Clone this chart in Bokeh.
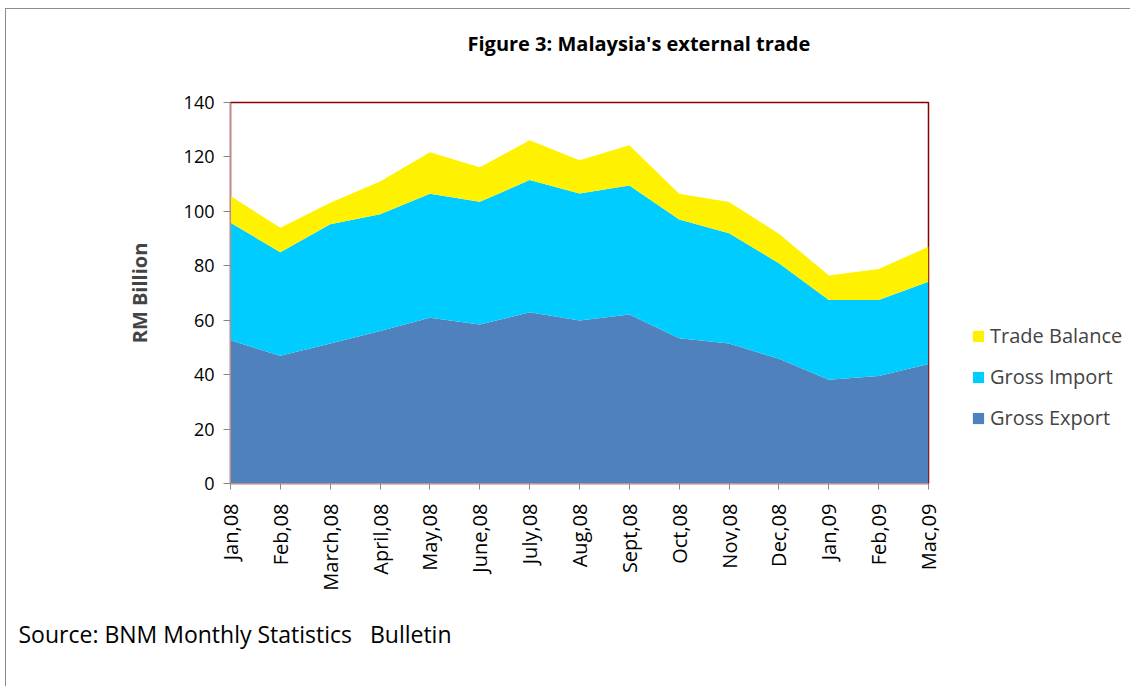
import math
from bokeh.plotting import figure
from bokeh.models import (ColumnDataSource, Range1d, FixedTicker, Legend, Title)
from bokeh.embed import file_html
from bokeh.resources import INLINE

months = ["Jan,08", "Feb,08", "March,08", "April,08", "May,08", "June,08",
          "July,08", "Aug,08", "Sept,08", "Oct,08", "Nov,08", "Dec,08",
          "Jan,09", "Feb,09", "Mac,09"]
gross_export = [52.6, 46.9, 51.4, 56.0, 60.9, 58.4, 62.9, 59.9, 62.1, 53.4,
                51.4, 45.8, 38.1, 39.5, 43.9]
gross_import = [43.2, 38.1, 43.9, 42.9, 45.6, 45.1, 48.6, 46.7, 47.4, 43.6,
                40.6, 35.1, 29.3, 27.9, 30.2]
trade_balance = [9.8, 9.0, 7.9, 12.1, 15.2, 12.7, 14.6, 12.2, 14.8, 9.5,
                 11.4, 10.9, 9.0, 11.4, 12.9]
y_ticks = [0, 20, 40, 60, 80, 100, 120, 140]

FONT = "Open Sans"
idx = list(range(len(months)))
src = ColumnDataSource(dict(x=idx, exp=gross_export, imp=gross_import,
                            bal=trade_balance))

p = figure(frame_width=698, frame_height=381, output_backend="svg",
           toolbar_location=None,
           x_range=Range1d(0, len(months) - 1), y_range=Range1d(0, 140),
           min_border_left=230, min_border_right=202, min_border_top=102,
           min_border_bottom=203)
p.background_fill_color = "white"
p.border_fill_alpha = 0
p.styles = {
    "background-color": "white",
    "background-image": "linear-gradient(#8c8c8c, #8c8c8c), linear-gradient(#8c8c8c, #8c8c8c)",
    "background-repeat": "no-repeat, no-repeat",
    "background-position": "5px 8px, 5px 8px",
    "background-size": "1px 100%, 100% 1px",
}
p.outline_line_color = "#8B0000"
p.outline_line_width = 1.5
p.xgrid.visible = False
p.ygrid.visible = False

rs = p.varea_stack(["exp", "imp", "bal"], x="x", source=src,
                   color=["#4F81BD", "#00CCFF", "#FFF200"])

# axes
p.yaxis.ticker = FixedTicker(ticks=y_ticks)
p.yaxis.axis_label = "RM Billion"
p.yaxis.axis_label_text_font = FONT
p.yaxis.axis_label_text_font_style = "bold"
p.yaxis.axis_label_text_font_size = "20px"
p.yaxis.axis_label_standoff = 28
p.yaxis.major_label_text_font = FONT
p.yaxis.major_label_text_font_size = "18px"
p.yaxis.major_label_text_color = "black"
p.yaxis.major_label_standoff = 9
p.yaxis.major_tick_out = 7
p.yaxis.major_tick_in = 0
p.yaxis.minor_tick_line_color = None
p.yaxis.major_tick_line_color = "#888888"
p.yaxis.axis_line_color = "#BC8F8F"

p.xaxis.ticker = FixedTicker(ticks=idx)
p.xaxis.major_label_overrides = {i: m for i, m in enumerate(months)}
p.xaxis.major_label_orientation = math.pi / 2
p.xaxis.major_label_text_font = FONT
p.xaxis.major_label_text_font_size = "20px"
p.xaxis.major_label_text_color = "black"
p.xaxis.major_label_standoff = 14
p.xaxis.major_tick_out = 6
p.xaxis.major_tick_in = 0
p.xaxis.minor_tick_line_color = None
p.xaxis.major_tick_line_color = "#888888"
p.xaxis.axis_line_color = "#BC8F8F"

legend = Legend(items=[("Trade Balance", [rs[2]]), ("Gross Import", [rs[1]]),
                       ("Gross Export", [rs[0]])],
                location=(43, 52), orientation="vertical",
                label_text_font=FONT, label_text_font_size="20px",
                glyph_width=14, glyph_height=14, label_height=20,
                spacing=14, label_standoff=5, padding=0, margin=0,
                border_line_color=None, background_fill_alpha=0)
p.add_layout(legend, "right")

title = Title(text="Figure 3: Malaysia's external trade\n", align="left",
              offset=237, standoff=38, text_font=FONT, text_font_style="bold",
              text_font_size="20px", text_color="black")
p.add_layout(title, "above")

source = Title(text="Source: BNM Monthly Statistics\u00a0\u00a0 Bulletin",
               align="left", offset=-212, standoff=44, text_font=FONT,
               text_font_style="normal", text_font_size="23px",
               text_color="black")
p.add_layout(source, "below")

open("out.html", "w").write(file_html(p, INLINE))
